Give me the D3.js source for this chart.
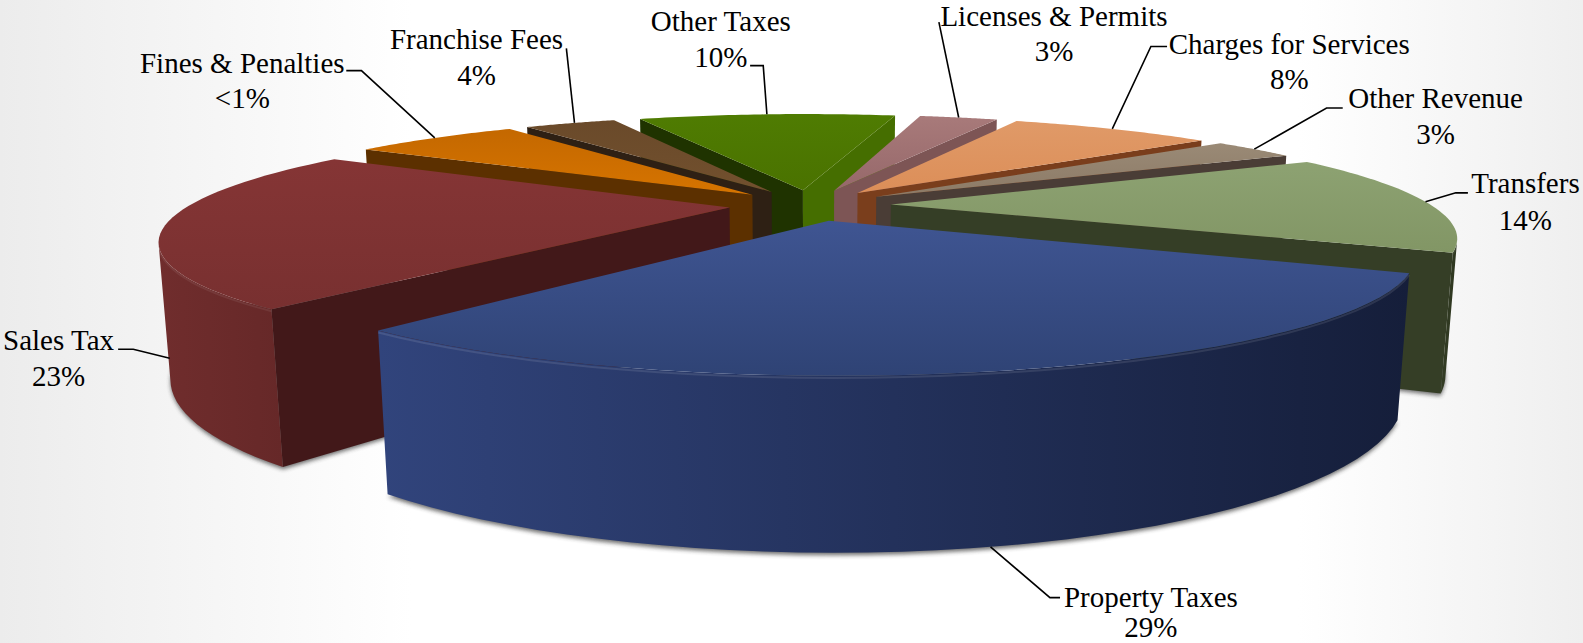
<!DOCTYPE html>
<html>
<head>
<meta charset="utf-8">
<script src="https://cdn.jsdelivr.net/npm/d3@7"></script>
<style>
  html, body { margin: 0; padding: 0; background: #fff; overflow: hidden; }
  text { font-family: "Liberation Serif", serif; font-size: 29px; fill: #000; }
</style>
</head>
<body>
<svg id="chart" width="1583" height="643"></svg>
<script>
// data
const categories = ["Property Taxes", "Sales Tax", "Fines & Penalties", "Franchise Fees", "Other Taxes",
    "Licenses & Permits", "Charges for Services", "Other Revenue", "Transfers"];
const percentLabels = ["29%", "23%", "<1%", "4%", "10%", "3%", "8%", "3%", "14%"];
// wedge sizes as drawn (the orange wedge is drawn far bigger than its <1% label)
const wedgeValues = [29.2, 22.8, 6.3, 3.5, 9.9, 3, 7.7, 3.1, 14.5];

// colours, same order as categories
const topColors = [["#3f5592", "#2f4375"], ["#853535", "#783030"], ["#c46800", "#d67400"], ["#6a4a2a", "#72502e"],
    ["#4f7c02", "#4a7200"], ["#a87a7a", "#96686a"], ["#e09a68", "#dc8e58"], ["#9a8a76", "#8c7a66"], ["#8da272", "#829665"]];
const wallColors = [["#31447c", "#151e3a"], ["#702d2d", "#662828"], ["#5a2f00", "#5a2f00"], ["#2e2014", "#2e2014"],
    ["#335000", "#335000"], ["#8a6060", "#8a6060"], ["#7a3e1c", "#7a3e1c"], ["#4a3d36", "#4a3d36"], ["#333c24", "#2e3720"]];
const cutColors = [["#222", "#222"], ["#421819", "#4a1b1b"], ["#5c3000", "#5c3000"], ["#2e2014", "#2e2014"],
    ["#1f3300", "#456e00"], ["#8a6060", "#7d5555"], ["#7a3e1c", "#7a3e1c"], ["#4a3d36", "#4a3d36"], ["#353e26", "#353e26"]];

// label layout in reference pixels (shrunk picture): centre x, first baseline, second baseline
const ref = 1583 / 1568;
const labelLayout = [
    {x: 1140, y1: 601, y2: 631, elbow: [[1050, 592], [1040, 592]], frac: 0.51, z: 1},
    {x: 58, y1: 347, y2: 382, elbow: [[117, 346], [132, 346]], frac: 0.34, z: 0.75},
    {x: 240, y1: 72, y2: 107, elbow: [[343, 70], [358, 70]], frac: 0.5, z: 0},
    {x: 472, y1: 49, y2: 84, elbow: [[561, 48]], frac: 0.55, z: 0},
    {x: 714, y1: 31, y2: 66, elbow: [[743, 65], [756, 65]], frac: 0.5, z: 0},
    {x: 1044, y1: 26, y2: 60, elbow: [[930, 22]], frac: 0.5, z: 0},
    {x: 1277, y1: 53, y2: 88, elbow: [[1156, 46], [1140, 46]], frac: 0.5, z: 0},
    {x: 1422, y1: 107, y2: 143, elbow: [[1330, 107], [1314, 107]], frac: 0.5, z: 0},
    {x: 1511, y1: 191, y2: 228, elbow: [[1454, 191], [1442, 191]], frac: 0.5, z: 0}
];

// perspective camera: unit pie on a plane, v towards the viewer, z downwards
const cx = 810, cy = 205;
const scaleU = 540, scaleV = 103.4, scaleZ = 128.7, tiltK = 0.267, depthK = 0.017;
const explode = 0.15;
const firstAngle = 114.5 * Math.PI / 180;

function project(u, v, z) {
    const w = 1 - tiltK * v + depthK * z;
    return [cx + scaleU * u / w, cy + (scaleV * v + scaleZ * z) / w];
}

const svg = d3.select("#chart");
const defs = svg.append("defs");

// page background
const bg = defs.append("linearGradient").attr("id", "bg");
bg.append("stop").attr("offset", "0%").attr("stop-color", "#ececec");
bg.append("stop").attr("offset", "26%").attr("stop-color", "#ffffff");
bg.append("stop").attr("offset", "82%").attr("stop-color", "#ffffff");
bg.append("stop").attr("offset", "100%").attr("stop-color", "#efefef");
svg.append("rect").attr("width", 1583).attr("height", 643).attr("fill", "url(#bg)");

defs.append("filter").attr("id", "blur").attr("x", "-5%").attr("y", "-5%").attr("width", "110%").attr("height", "110%")
    .append("feGaussianBlur").attr("stdDeviation", 2);

function gradient(id, colors, vertical) {
    const g = defs.append("linearGradient").attr("id", id)
        .attr("x1", 0).attr("y1", 0).attr("x2", vertical ? 0 : 1).attr("y2", vertical ? 1 : 0);
    g.append("stop").attr("offset", "0%").attr("stop-color", colors[0]);
    g.append("stop").attr("offset", "100%").attr("stop-color", colors[1]);
}

const pie = d3.pie().sort(null).value(d => d.value)
    .startAngle(firstAngle).endAngle(firstAngle + 2 * Math.PI);

const rows = categories.map((name, i) => ({name, value: wedgeValues[i], pct: percentLabels[i], i}));
const arcs = pie(rows).map(d => {
    const mid = (d.startAngle + d.endAngle) / 2;
    d.offU = explode * Math.sin(mid);
    d.offV = -explode * Math.cos(mid);
    d.depth = -Math.cos(mid);
    d.rim = (a, z) => project(d.offU + Math.sin(a), d.offV - Math.cos(a), z);
    d.apex = z => project(d.offU, d.offV, z);
    d.angles = d3.range(0, 41).map(k => d3.scaleLinear().domain([0, 40]).range([d.startAngle, d.endAngle])(k));
    return d;
});

const line = d3.line();
const closed = pts => line(pts) + "Z";

// soft contact shadow under everything
svg.append("g").attr("filter", "url(#blur)").attr("opacity", 0.7)
    .selectAll("path").data(arcs).join("path")
    .attr("fill", "#333")
    .attr("d", d => closed([d.apex(1.01)].concat(d.angles.map(a => d.rim(a, 1.015)))));

const sliceG = svg.append("g").selectAll("g")
    .data(arcs.slice().sort((a, b) => a.depth - b.depth))
    .join("g");

sliceG.each(function(d) {
    const g = d3.select(this);
    const i = d.data.i;
    gradient("top" + i, topColors[i], true);
    gradient("wall" + i, wallColors[i], false);

    // the two cut faces, dropped when they look away from the viewer
    const faces = [
        {a: d.startAngle, color: cutColors[i][0]},
        {a: d.endAngle, color: cutColors[i][1]}
    ];
    faces.forEach((f, k) => {
        const quad = k === 0
            ? [d.apex(0), d.rim(f.a, 0), d.rim(f.a, 1), d.apex(1)]
            : [d.rim(f.a, 0), d.apex(0), d.apex(1), d.rim(f.a, 1)];
        if (d3.polygonArea(quad) > 0) g.append("path").attr("d", closed(quad)).attr("fill", f.color);
    });

    // outer wall, only the part of the rim that faces us
    const visible = d.angles.filter((a, k) => {
        const p = d.angles[Math.min(k + 1, 40)], q = d.angles[Math.max(k - 1, 0)];
        const r0 = d.rim(q, 0), r1 = d.rim(p, 0);
        return r1[0] < r0[0];
    });
    if (visible.length > 1) {
        const topEdge = visible.map(a => d.rim(a, 0));
        const botEdge = visible.map(a => d.rim(a, 1)).reverse();
        g.append("path").attr("d", closed(topEdge.concat(botEdge))).attr("fill", `url(#wall${i})`);
    }

    // top face
    const topPts = [d.apex(0)].concat(d.angles.map(a => d.rim(a, 0)));
    g.append("path").attr("d", closed(topPts)).attr("fill", `url(#top${i})`);

    // bevel along the rim
    if (visible.length > 1) {
        g.append("path").attr("d", line(visible.map(a => d.rim(a, 0.012))))
            .attr("fill", "none").attr("stroke", "#fff").attr("stroke-opacity", i === 0 ? 0.1 : 0.07).attr("stroke-width", 2);
    }
});

// labels and leaders
const labels = svg.append("g").selectAll("g").data(arcs).join("g");

labels.append("path")
    .attr("fill", "none").attr("stroke", "#000").attr("stroke-width", 1.6)
    .attr("d", d => {
        const lay = labelLayout[d.data.i];
        const a = d.startAngle + lay.frac * (d.endAngle - d.startAngle);
        return line(lay.elbow.map(p => [p[0] * ref, p[1] * ref]).concat([d.rim(a, lay.z)]));
    });

labels.append("text").attr("text-anchor", "middle")
    .attr("x", d => labelLayout[d.data.i].x * ref)
    .attr("y", d => labelLayout[d.data.i].y1 * ref)
    .text(d => d.data.name);

labels.append("text").attr("text-anchor", "middle")
    .attr("x", d => labelLayout[d.data.i].x * ref)
    .attr("y", d => labelLayout[d.data.i].y2 * ref)
    .text(d => d.data.pct);
</script>
</body>
</html>
